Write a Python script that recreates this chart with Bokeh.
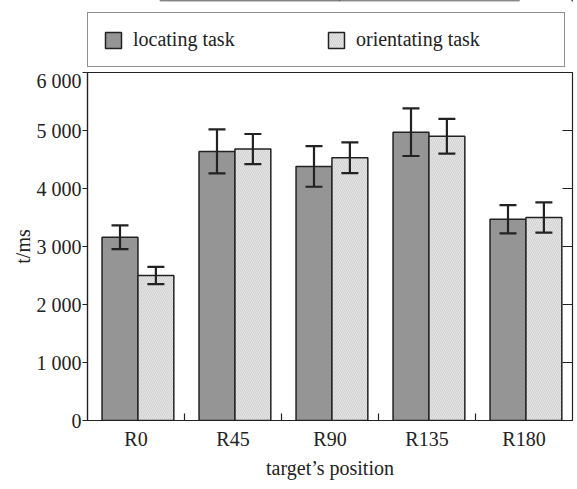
from bokeh.plotting import figure
from bokeh.layouts import column
from bokeh.models import (Range1d, FixedTicker, Whisker, TeeHead,
                          ColumnDataSource, Legend, LegendItem)
from bokeh.embed import file_html
from bokeh.resources import INLINE

# ---- data ----
categories = ["R0", "R45", "R90", "R135", "R180"]
locating = [3160, 4640, 4380, 4970, 3470]
locating_err = [205, 380, 350, 410, 245]
orienting = [2500, 4680, 4530, 4900, 3500]
orienting_err = [150, 260, 265, 300, 260]
series_names = ["locating task", "orientating task"]
y_ticks = [0, 1000, 2000, 3000, 4000, 5000, 6000]
y_tick_labels = ["0", "1 000", "2 000", "3 000", "4 000", "5 000", "6 000"]
x_title = "target\u2019s position"
y_title = "t/ms"

FONT = "Liberation Serif"
FS = "20px"
INK = "#222222"
LEG_H = 69
TOTAL_W, TOTAL_H = 577, 489

n = len(categories)
centers = [i + 0.5 for i in range(n)]
off_l, off_r, bw = -0.165, 0.205, 0.37

src_l = ColumnDataSource(dict(
    x=[c + off_l for c in centers], top=locating,
    upper=[v + e for v, e in zip(locating, locating_err)],
    lower=[v - e for v, e in zip(locating, locating_err)]))
src_r = ColumnDataSource(dict(
    x=[c + off_r for c in centers], top=orienting,
    upper=[v + e for v, e in zip(orienting, orienting_err)],
    lower=[v - e for v, e in zip(orienting, orienting_err)]))

style_l = dict(fill_color="#959595", line_color=INK, line_width=1.5)
style_r = dict(fill_color="#e6e6e6", line_color=INK, line_width=1.5,
               hatch_pattern="\\", hatch_color="#b8b8b8", hatch_scale=4,
               hatch_weight=0.6, hatch_alpha=0.8)

p = figure(width=TOTAL_W, height=TOTAL_H - LEG_H, output_backend="svg",
           toolbar_location=None,
           x_range=Range1d(0, n), y_range=Range1d(0, 6000),
           min_border_left=87, min_border_right=5, min_border_top=3,
           min_border_bottom=69)
p.grid.visible = False
p.outline_line_color = INK
p.outline_line_width = 1.2
p.background_fill_color = "white"
p.border_fill_color = "white"

p.vbar(x="x", top="top", width=bw, source=src_l, **style_l)
p.vbar(x="x", top="top", width=bw, source=src_r, **style_r)

for src in (src_l, src_r):
    w = Whisker(base="x", upper="upper", lower="lower", source=src,
                line_color=INK, line_width=2.2, level="annotation",
                upper_head=TeeHead(size=17, line_width=2.2, line_color=INK),
                lower_head=TeeHead(size=17, line_width=2.2, line_color=INK))
    p.add_layout(w)

# right-side inward ticks (half of each dash is clipped by the frame)
p.scatter(x=[n] * len(y_ticks), y=y_ticks, marker="dash", size=20,
          line_color=INK, line_width=1.2)

# x axis
xa = p.xaxis[0]
xa.ticker = FixedTicker(ticks=centers, minor_ticks=list(range(1, n)))
xa.major_label_overrides = {c: lab for c, lab in zip(centers, categories)}
xa.major_tick_in = 0
xa.major_tick_out = 0
xa.minor_tick_in = 7
xa.minor_tick_out = 0
xa.minor_tick_line_color = INK
xa.minor_tick_line_width = 1.2
xa.axis_line_color = INK
xa.axis_line_width = 1.2
xa.major_label_text_font = FONT
xa.major_label_text_font_size = FS
xa.major_label_text_color = INK
xa.major_label_standoff = 7
xa.axis_label = x_title
xa.axis_label_text_font = FONT
xa.axis_label_text_font_size = FS
xa.axis_label_text_font_style = "normal"
xa.axis_label_text_color = INK
xa.axis_label_standoff = 4

# y axis
ya = p.yaxis[0]
ya.ticker = FixedTicker(ticks=y_ticks, minor_ticks=[])
ya.major_label_overrides = {t: lab for t, lab in zip(y_ticks, y_tick_labels)}
ya.major_tick_in = 0
ya.major_tick_out = 5
ya.major_tick_line_color = INK
ya.major_tick_line_width = 1.2
ya.axis_line_color = INK
ya.axis_line_width = 1.2
ya.major_label_text_font = FONT
ya.major_label_text_font_size = FS
ya.major_label_text_color = INK
ya.major_label_standoff = 1
ya.axis_label = y_title
ya.axis_label_text_font = FONT
ya.axis_label_text_font_size = FS
ya.axis_label_text_font_style = "normal"
ya.axis_label_text_color = INK
ya.axis_label_standoff = 0

# ---- legend strip (same sources, drawn off-range so only the legend shows) ----
lg = figure(width=TOTAL_W, height=LEG_H, output_backend="svg",
            toolbar_location=None, x_range=Range1d(0, 1),
            y_range=Range1d(-2, -1), min_border=0,
            x_axis_location=None, y_axis_location=None)
lg.grid.visible = False
lg.outline_line_color = None
lg.border_fill_color = "white"
lg.background_fill_color = "white"
lr_l = lg.vbar(x="x", top="top", width=bw, source=src_l, **style_l)
lr_r = lg.vbar(x="x", top="top", width=bw, source=src_r, **style_r)

legend = Legend(items=[LegendItem(label=series_names[0], renderers=[lr_l]),
                       LegendItem(label=series_names[1], renderers=[lr_r])],
                orientation="horizontal", location=(0, 2),
                border_line_color=INK, border_line_width=1.2,
                background_fill_color="white", padding=15, margin=0,
                spacing=0, glyph_width=20, glyph_height=20, label_height=20,
                label_width=193, label_standoff=10,
                label_text_font=FONT, label_text_font_size=FS,
                label_text_color=INK)
lg.add_layout(legend, "center")

layout = column(lg, p, spacing=0)
open("out.html", "w").write(file_html(layout, INLINE))
